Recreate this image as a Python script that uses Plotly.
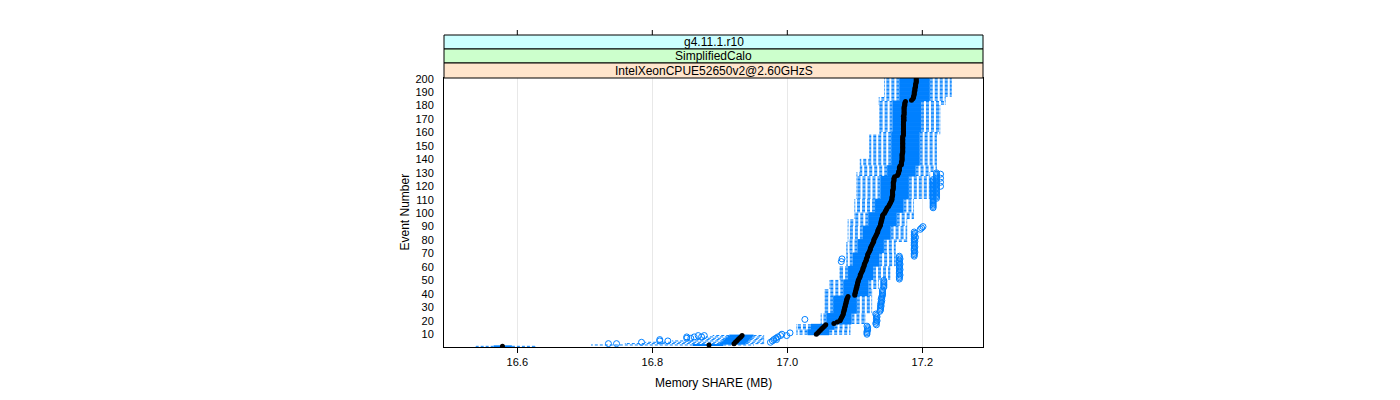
import plotly.graph_objects as go

# ---------------- data ----------------
EVENTS = list(range(1, 201))

MEDIAN = [
    16.578, 16.884, 16.921, 16.923, 16.925, 16.927, 16.929, 16.931, 16.933, 17.043,
    17.045, 17.047, 17.049, 17.051, 17.053, 17.055, 17.057, 17.069, 17.074, 17.078,
    17.079, 17.080, 17.081, 17.082, 17.083, 17.083, 17.084, 17.084, 17.085, 17.085,
    17.086, 17.086, 17.087, 17.087, 17.088, 17.088, 17.089, 17.090, 17.100, 17.100,
    17.101, 17.101, 17.102, 17.102, 17.103, 17.103, 17.104, 17.104, 17.105, 17.105,
    17.106, 17.107, 17.108, 17.108, 17.109, 17.110, 17.111, 17.112, 17.112, 17.113,
    17.114, 17.114, 17.115, 17.116, 17.117, 17.117, 17.118, 17.119, 17.119, 17.120,
    17.121, 17.122, 17.123, 17.123, 17.124, 17.125, 17.126, 17.127, 17.128, 17.128,
    17.129, 17.130, 17.131, 17.132, 17.133, 17.134, 17.134, 17.135, 17.136, 17.137,
    17.138, 17.138, 17.139, 17.139, 17.140, 17.140, 17.141, 17.141, 17.142, 17.144,
    17.145, 17.146, 17.147, 17.148, 17.150, 17.151, 17.152, 17.153, 17.154, 17.155,
    17.155, 17.155, 17.156, 17.156, 17.156, 17.156, 17.156, 17.157, 17.157, 17.157,
    17.157, 17.157, 17.157, 17.158, 17.158, 17.158, 17.159, 17.163, 17.164, 17.165,
    17.165, 17.166, 17.166, 17.166, 17.167, 17.169, 17.169, 17.169, 17.170, 17.170,
    17.170, 17.170, 17.170, 17.170, 17.171, 17.171, 17.171, 17.171, 17.171, 17.171,
    17.171, 17.171, 17.171, 17.171, 17.171, 17.171, 17.171, 17.172, 17.172, 17.172,
    17.172, 17.172, 17.172, 17.172, 17.172, 17.172, 17.172, 17.172, 17.173, 17.172,
    17.173, 17.172, 17.173, 17.173, 17.173, 17.173, 17.173, 17.173, 17.173, 17.174,
    17.174, 17.174, 17.175, 17.184, 17.186, 17.187, 17.187, 17.188, 17.188, 17.188,
    17.189, 17.189, 17.189, 17.190, 17.190, 17.190, 17.191, 17.191, 17.191, 17.191,
]

Q1 = [
    16.565, 16.860, 16.900, 16.902, 16.905, 16.907, 16.909, 16.912, 16.914, 17.030,
    17.030, 17.030, 17.030, 17.035, 17.035, 17.035, 17.035, 17.058, 17.058, 17.058,
    17.058, 17.058, 17.058, 17.058, 17.058, 17.068, 17.068, 17.068, 17.068, 17.068,
    17.068, 17.068, 17.068, 17.068, 17.068, 17.068, 17.068, 17.068, 17.083, 17.083,
    17.083, 17.083, 17.083, 17.083, 17.083, 17.083, 17.083, 17.083, 17.083, 17.083,
    17.090, 17.090, 17.090, 17.090, 17.090, 17.090, 17.090, 17.090, 17.090, 17.090,
    17.097, 17.097, 17.097, 17.097, 17.097, 17.097, 17.097, 17.097, 17.097, 17.097,
    17.104, 17.104, 17.104, 17.104, 17.104, 17.104, 17.104, 17.104, 17.104, 17.104,
    17.112, 17.112, 17.112, 17.112, 17.112, 17.112, 17.112, 17.112, 17.112, 17.112,
    17.120, 17.120, 17.120, 17.120, 17.120, 17.120, 17.120, 17.120, 17.120, 17.120,
    17.130, 17.130, 17.130, 17.130, 17.130, 17.130, 17.130, 17.130, 17.130, 17.130,
    17.138, 17.138, 17.138, 17.138, 17.138, 17.138, 17.138, 17.138, 17.138, 17.138,
    17.138, 17.138, 17.138, 17.138, 17.138, 17.138, 17.138, 17.148, 17.148, 17.148,
    17.148, 17.148, 17.148, 17.148, 17.148, 17.154, 17.154, 17.154, 17.154, 17.154,
    17.154, 17.154, 17.154, 17.154, 17.154, 17.154, 17.154, 17.154, 17.154, 17.154,
    17.154, 17.154, 17.154, 17.154, 17.154, 17.154, 17.154, 17.154, 17.154, 17.154,
    17.156, 17.156, 17.156, 17.156, 17.156, 17.156, 17.156, 17.156, 17.156, 17.156,
    17.156, 17.156, 17.156, 17.156, 17.156, 17.156, 17.156, 17.156, 17.156, 17.156,
    17.156, 17.156, 17.156, 17.166, 17.166, 17.166, 17.166, 17.166, 17.166, 17.166,
    17.166, 17.166, 17.166, 17.166, 17.166, 17.166, 17.166, 17.166, 17.166, 17.166,
]

Q3 = [
    16.592, 16.905, 16.938, 16.940, 16.942, 16.944, 16.946, 16.948, 16.950, 17.062,
    17.062, 17.062, 17.062, 17.070, 17.070, 17.070, 17.070, 17.095, 17.095, 17.095,
    17.095, 17.095, 17.095, 17.095, 17.095, 17.103, 17.103, 17.103, 17.103, 17.103,
    17.103, 17.103, 17.103, 17.103, 17.103, 17.103, 17.103, 17.103, 17.120, 17.120,
    17.120, 17.120, 17.120, 17.120, 17.120, 17.120, 17.120, 17.120, 17.120, 17.120,
    17.127, 17.127, 17.127, 17.127, 17.127, 17.127, 17.127, 17.127, 17.127, 17.127,
    17.136, 17.136, 17.136, 17.136, 17.136, 17.136, 17.136, 17.136, 17.136, 17.136,
    17.143, 17.143, 17.143, 17.143, 17.143, 17.143, 17.143, 17.143, 17.143, 17.143,
    17.153, 17.153, 17.153, 17.153, 17.153, 17.153, 17.153, 17.153, 17.153, 17.153,
    17.162, 17.162, 17.162, 17.162, 17.162, 17.162, 17.162, 17.162, 17.162, 17.162,
    17.172, 17.172, 17.172, 17.172, 17.172, 17.172, 17.172, 17.172, 17.172, 17.172,
    17.180, 17.180, 17.180, 17.180, 17.180, 17.180, 17.180, 17.180, 17.180, 17.180,
    17.180, 17.180, 17.180, 17.180, 17.180, 17.180, 17.180, 17.190, 17.190, 17.190,
    17.190, 17.190, 17.190, 17.190, 17.190, 17.196, 17.196, 17.196, 17.196, 17.196,
    17.196, 17.196, 17.196, 17.196, 17.196, 17.196, 17.196, 17.196, 17.196, 17.196,
    17.196, 17.196, 17.196, 17.196, 17.196, 17.196, 17.196, 17.196, 17.196, 17.196,
    17.198, 17.198, 17.198, 17.198, 17.198, 17.198, 17.198, 17.198, 17.198, 17.198,
    17.198, 17.198, 17.198, 17.198, 17.198, 17.198, 17.198, 17.198, 17.198, 17.198,
    17.198, 17.198, 17.198, 17.211, 17.211, 17.211, 17.211, 17.211, 17.211, 17.211,
    17.211, 17.211, 17.211, 17.211, 17.211, 17.211, 17.211, 17.211, 17.211, 17.211,
]

LO = [
    16.539, 16.710, 16.760, 16.790, 16.830, 16.850, 16.870, 16.880, 16.890, 17.014,
    17.014, 17.014, 17.014, 17.014, 17.014, 17.014, 17.014, 17.050, 17.050, 17.050,
    17.050, 17.050, 17.050, 17.050, 17.050, 17.056, 17.056, 17.056, 17.056, 17.056,
    17.056, 17.056, 17.056, 17.056, 17.056, 17.056, 17.056, 17.056, 17.056, 17.056,
    17.056, 17.056, 17.056, 17.063, 17.063, 17.063, 17.063, 17.063, 17.063, 17.063,
    17.078, 17.078, 17.078, 17.078, 17.078, 17.078, 17.078, 17.078, 17.078, 17.078,
    17.088, 17.088, 17.088, 17.088, 17.088, 17.088, 17.088, 17.088, 17.088, 17.088,
    17.088, 17.088, 17.088, 17.088, 17.088, 17.088, 17.088, 17.088, 17.090, 17.090,
    17.090, 17.090, 17.090, 17.090, 17.090, 17.090, 17.090, 17.090, 17.090, 17.090,
    17.090, 17.090, 17.090, 17.090, 17.090, 17.100, 17.100, 17.100, 17.100, 17.100,
    17.100, 17.100, 17.100, 17.100, 17.100, 17.100, 17.100, 17.100, 17.100, 17.100,
    17.103, 17.103, 17.103, 17.103, 17.103, 17.103, 17.103, 17.103, 17.103, 17.103,
    17.103, 17.103, 17.103, 17.103, 17.103, 17.103, 17.103, 17.103, 17.103, 17.103,
    17.108, 17.108, 17.108, 17.108, 17.108, 17.108, 17.108, 17.108, 17.108, 17.108,
    17.122, 17.122, 17.122, 17.122, 17.122, 17.122, 17.122, 17.122, 17.122, 17.122,
    17.122, 17.122, 17.122, 17.122, 17.122, 17.122, 17.122, 17.122, 17.137, 17.137,
    17.137, 17.137, 17.137, 17.137, 17.137, 17.137, 17.137, 17.137, 17.137, 17.137,
    17.137, 17.137, 17.137, 17.137, 17.137, 17.137, 17.137, 17.137, 17.137, 17.137,
    17.136, 17.136, 17.136, 17.136, 17.136, 17.136, 17.144, 17.144, 17.144, 17.144,
    17.144, 17.144, 17.144, 17.144, 17.144, 17.144, 17.144, 17.144, 17.144, 17.144,
]

HI = [
    16.626, 16.950, 16.965, 16.965, 16.965, 16.965, 16.965, 16.965, 16.965, 17.093,
    17.093, 17.093, 17.093, 17.093, 17.093, 17.093, 17.093, 17.115, 17.115, 17.115,
    17.115, 17.115, 17.115, 17.115, 17.115, 17.125, 17.125, 17.125, 17.125, 17.125,
    17.125, 17.125, 17.125, 17.125, 17.125, 17.125, 17.125, 17.125, 17.125, 17.125,
    17.125, 17.125, 17.125, 17.135, 17.135, 17.135, 17.135, 17.135, 17.135, 17.135,
    17.152, 17.152, 17.152, 17.152, 17.152, 17.152, 17.152, 17.152, 17.152, 17.152,
    17.160, 17.160, 17.160, 17.160, 17.160, 17.160, 17.160, 17.160, 17.160, 17.160,
    17.160, 17.160, 17.160, 17.160, 17.160, 17.160, 17.160, 17.160, 17.177, 17.177,
    17.177, 17.177, 17.177, 17.177, 17.177, 17.177, 17.177, 17.177, 17.177, 17.177,
    17.177, 17.177, 17.177, 17.177, 17.177, 17.187, 17.187, 17.187, 17.187, 17.187,
    17.187, 17.187, 17.187, 17.187, 17.187, 17.187, 17.187, 17.187, 17.187, 17.187,
    17.211, 17.211, 17.211, 17.211, 17.211, 17.211, 17.211, 17.211, 17.211, 17.211,
    17.211, 17.211, 17.211, 17.211, 17.211, 17.211, 17.211, 17.211, 17.211, 17.211,
    17.221, 17.221, 17.221, 17.221, 17.221, 17.221, 17.221, 17.221, 17.221, 17.221,
    17.221, 17.221, 17.221, 17.221, 17.221, 17.221, 17.221, 17.221, 17.221, 17.221,
    17.221, 17.221, 17.221, 17.221, 17.221, 17.221, 17.221, 17.221, 17.226, 17.226,
    17.226, 17.226, 17.226, 17.226, 17.226, 17.226, 17.226, 17.226, 17.226, 17.226,
    17.226, 17.226, 17.226, 17.226, 17.226, 17.226, 17.226, 17.226, 17.226, 17.226,
    17.234, 17.234, 17.234, 17.234, 17.234, 17.234, 17.243, 17.243, 17.243, 17.243,
    17.243, 17.243, 17.243, 17.243, 17.243, 17.243, 17.243, 17.243, 17.243, 17.243,
]

OUT_EVENT = [
    3, 3, 4, 5, 6, 5, 7, 8, 7, 8, 9, 8, 9,
    4, 5, 6, 6, 7, 8, 9, 9,
    10, 11,
    10, 11, 12, 13, 14, 15, 16,
    17, 18, 19, 20, 21, 22, 23, 24, 25,
    21,
    27, 28, 29, 30, 31, 32, 33, 34, 35, 36, 37, 38,
    39, 40, 41, 42, 43,
    45, 46, 47, 48, 49, 50,
    51, 52, 53, 54, 55, 56, 57, 58, 59, 60, 61, 62, 63, 64, 65, 66, 67, 68,
    64, 66,
    68, 69, 70, 71, 72, 73, 74, 75, 76, 77, 78, 79, 80, 81, 82, 83, 84, 85, 86,
    88, 89, 90,
    104, 105, 106, 107, 108, 109, 110, 111, 112, 113, 114, 115, 116, 117, 118,
    119, 120, 121, 122, 123, 124, 125,
    111, 112, 113, 114, 115, 116, 117, 118, 119, 120, 121, 122, 123, 124, 125,
    126, 127, 128, 129, 130,
    120, 123, 126, 129,
]

OUT_VALUE = [
    16.735, 16.747, 16.784, 16.811, 16.811, 16.823, 16.851, 16.851, 16.857, 16.862, 16.868, 16.873, 16.877,
    16.975, 16.978, 16.980, 16.984, 16.983, 16.986, 16.990, 16.999,
    16.992, 17.004,
    17.118, 17.118, 17.118, 17.119, 17.119, 17.119, 17.118,
    17.132, 17.131, 17.132, 17.133, 17.132, 17.132, 17.133, 17.132, 17.131,
    17.026,
    17.137, 17.138, 17.138, 17.138, 17.139, 17.138, 17.139, 17.139, 17.140, 17.139, 17.140, 17.140,
    17.141, 17.141, 17.141, 17.141, 17.141,
    17.143, 17.143, 17.143, 17.143, 17.143, 17.143,
    17.166, 17.166, 17.166, 17.167, 17.166, 17.166, 17.166, 17.167, 17.166, 17.166,
    17.166, 17.167, 17.166, 17.166, 17.166, 17.167, 17.166, 17.166,
    17.080, 17.081,
    17.188, 17.188, 17.188, 17.189, 17.188, 17.188, 17.188, 17.189, 17.188, 17.188,
    17.188, 17.189, 17.188, 17.188, 17.190, 17.188, 17.188, 17.189, 17.188,
    17.197, 17.199, 17.201,
    17.216, 17.216, 17.216, 17.216, 17.216, 17.216, 17.216, 17.216, 17.216, 17.216,
    17.216, 17.216, 17.216, 17.216, 17.216, 17.216, 17.216, 17.216, 17.216, 17.216,
    17.216, 17.216,
    17.221, 17.221, 17.221, 17.221, 17.221, 17.221, 17.221, 17.221, 17.221, 17.221,
    17.221, 17.221, 17.221, 17.221, 17.221, 17.221, 17.221, 17.221, 17.221, 17.221,
    17.227, 17.227, 17.227, 17.227,
]

X_TICKS = [16.6, 16.8, 17.0, 17.2]
X_TICK_LABELS = ["16.6", "16.8", "17.0", "17.2"]
Y_TICKS = [10, 20, 30, 40, 50, 60, 70, 80, 90, 100,
           110, 120, 130, 140, 150, 160, 170, 180, 190, 200]
STRIP_LABELS = ["g4.11.1.r10", "SimplifiedCalo", "IntelXeonCPUE52650v2@2.60GHzS"]
STRIP_COLORS = ["#ccffff", "#ccffcc", "#ffe5cc"]
X_TITLE = "Memory SHARE (MB)"
Y_TITLE = "Event Number"

# ---------------- styling ----------------
BLUE = "#0080ff"
FONT = "Liberation Sans, Arial, sans-serif"
HALF = 0.25          # half box height (box.ratio = 1)
W, H = 1400, 400
OFF = 8              # page body margin of the written html
# target plot area in the screenshot: x 444..983, y 78..347
ML, MT = 444 - OFF, 78 - OFF
PLOT_W, PLOT_H = 983 - 444, 347 - 78
MR = W - ML - PLOT_W
MB = H - MT - PLOT_H


def py(px):
    """screenshot pixel row -> paper y"""
    return (347 - px) / PLOT_H


# boxes: one thick horizontal bar per event (q1..q3)
bx, by = [], []
for e, a, b in zip(EVENTS, Q1, Q3):
    bx += [a, b, None]
    by += [e, e, None]

# whiskers (dashed) and staples
wx, wy = [], []
for e, lo, a, b, hi in zip(EVENTS, LO, Q1, Q3, HI):
    wx += [a, lo, None, b, hi, None]
    wy += [e, e, None, e, e, None]
sx, sy = [], []
for e, lo, hi in zip(EVENTS, LO, HI):
    sx += [lo, lo, None, hi, hi, None]
    sy += [e - HALF, e + HALF, None, e - HALF, e + HALF, None]

fig = go.Figure()
fig.add_trace(go.Scatter(x=wx, y=wy, mode="lines",
                         line=dict(color=BLUE, width=1, dash="3px,2px", simplify=False),
                         hoverinfo="skip"))
fig.add_trace(go.Scatter(x=sx, y=sy, mode="lines",
                         line=dict(color=BLUE, width=1, simplify=False), hoverinfo="skip"))
fig.add_trace(go.Scatter(x=bx, y=by, mode="lines",
                         line=dict(color=BLUE, width=2, simplify=False), hoverinfo="skip"))
fig.add_trace(go.Scatter(x=OUT_VALUE, y=OUT_EVENT, mode="markers",
                         marker=dict(symbol="circle-open", size=6, color=BLUE,
                                     line=dict(color=BLUE, width=1)),
                         hoverinfo="skip"))
fig.add_trace(go.Scatter(x=MEDIAN, y=EVENTS, mode="markers",
                         marker=dict(symbol="circle", size=5, color="black",
                                     line=dict(width=0)),
                         hoverinfo="skip"))

shapes = []
# strips
edges = [35, 49, 63, 78]
for i, (lab, col) in enumerate(zip(STRIP_LABELS, STRIP_COLORS)):
    shapes.append(dict(type="rect", xref="paper", yref="paper",
                       x0=0, x1=1, y0=py(edges[i + 1]), y1=py(edges[i]),
                       fillcolor=col, line=dict(color="black", width=1), layer="above"))
# top tick marks above strips
for t in X_TICKS:
    shapes.append(dict(type="line", xref="x", yref="paper", x0=t, x1=t,
                       y0=py(35), y1=py(30), line=dict(color="black", width=1)))

annotations = []
for i, lab in enumerate(STRIP_LABELS):
    annotations.append(dict(text=lab, xref="paper", yref="paper", x=0.5,
                            y=py((edges[i] + edges[i + 1]) / 2), showarrow=False,
                            xanchor="center", yanchor="middle",
                            font=dict(family=FONT, size=12, color="black")))
annotations.append(dict(text=X_TITLE, xref="paper", yref="paper", x=0.5, y=py(383),
                        showarrow=False, xanchor="center", yanchor="middle",
                        font=dict(family=FONT, size=12, color="black")))
annotations.append(dict(text=Y_TITLE, xref="paper", yref="paper",
                        x=(404 - 444) / PLOT_W, y=0.5, textangle=-90,
                        showarrow=False, xanchor="center", yanchor="middle",
                        font=dict(family=FONT, size=12, color="black")))

fig.update_layout(
    width=W, height=H,
    margin=dict(l=ML, r=MR, t=MT, b=MB, pad=0),
    paper_bgcolor="white", plot_bgcolor="white",
    showlegend=False, hovermode=False,
    shapes=shapes, annotations=annotations,
    font=dict(family=FONT, size=11, color="black"),
    xaxis=dict(range=[16.4914, 17.2899], tickvals=X_TICKS, ticktext=X_TICK_LABELS,
               showgrid=True, gridcolor="#e8e8e8", gridwidth=1, zeroline=False,
               showline=True, linecolor="black", linewidth=1, mirror=True,
               ticks="outside", ticklen=5, tickcolor="black",
               tickfont=dict(family=FONT, size=11, color="black")),
    yaxis=dict(range=[0.5, 200.5], tickvals=Y_TICKS, ticktext=[str(v) for v in Y_TICKS],
               showgrid=False, zeroline=False,
               showline=True, linecolor="black", linewidth=1, mirror=True,
               ticks="", ticklabelstandoff=7,
               tickfont=dict(family=FONT, size=11, color="black")),
)

fig.write_html("out.html")
